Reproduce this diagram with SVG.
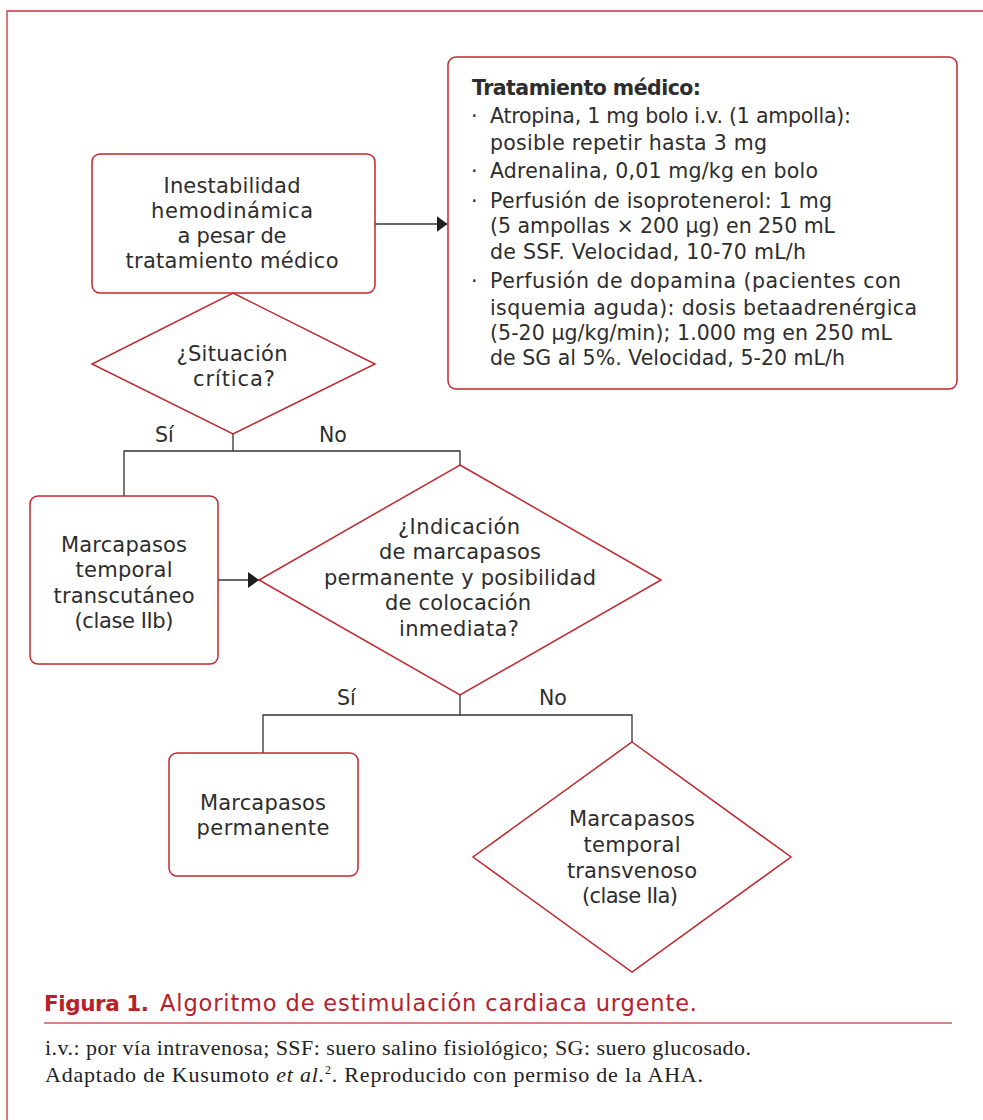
<svg xmlns="http://www.w3.org/2000/svg" width="983" height="1120" viewBox="0 0 983 1120">
<defs>
<marker id="ah" viewBox="0 0 11 16" refX="11" refY="8" markerWidth="11" markerHeight="16" markerUnits="userSpaceOnUse" orient="auto">
<path d="M0,0 L11,8 L0,16 Z" fill="#1e1e1e"/>
</marker>
<style>
.node{fill:#fff;stroke:#c1272d;stroke-width:1.5}
.t{font-family:"DejaVu Sans","Open Sans",sans-serif;font-size:21px;fill:#2d2d2d;text-anchor:middle}
.tl{font-family:"DejaVu Sans","Open Sans",sans-serif;font-size:20.5px;fill:#2d2d2d}
.lbl{font-family:"DejaVu Sans","Open Sans",sans-serif;font-size:20.5px;fill:#2d2d2d}
.conn{fill:none;stroke:#333;stroke-width:1.3}
.frame{stroke:#c4343b;stroke-width:1.3;fill:none}
.fn{font-family:"Liberation Serif","Times New Roman",serif;font-size:22px;fill:#222}
</style>
</defs>
<rect width="983" height="1120" fill="#fff"/>
<path class="frame" d="M983,11 H7 V1120"/>

<g id="connectors">
<path class="conn" d="M375,224 H447.5" marker-end="url(#ah)"/>
<path class="conn" d="M233,434 V451 M124,496 V451 H460 V465"/>
<path class="conn" d="M218,580 H259" marker-end="url(#ah)"/>
<path class="conn" d="M460,694 V715 M263,753 V715 H632 V742"/>
<text class="lbl" x="155" y="442">Sí</text>
<text class="lbl" x="319" y="442">No</text>
<text class="lbl" x="337" y="705">Sí</text>
<text class="lbl" x="539" y="705">No</text>
</g>

<g id="tratamiento">
<rect class="node" x="448" y="57" width="509" height="332" rx="8"/>
<text class="tl" x="472" y="95" font-weight="bold" textLength="229">Tratamiento médico:</text>
<text class="tl" x="471" y="123">·</text>
<text class="tl" x="490" y="123" textLength="361">Atropina, 1 mg bolo i.v. (1 ampolla):</text>
<text class="tl" x="490" y="150" textLength="277">posible repetir hasta 3 mg</text>
<text class="tl" x="471" y="178">·</text>
<text class="tl" x="490" y="178" textLength="328">Adrenalina, 0,01 mg/kg en bolo</text>
<text class="tl" x="471" y="208">·</text>
<text class="tl" x="490" y="208" textLength="342">Perfusión de isoprotenerol: 1 mg</text>
<text class="tl" x="490" y="233" textLength="345">(5 ampollas × 200 µg) en 250 mL</text>
<text class="tl" x="490" y="259" textLength="316">de SSF. Velocidad, 10-70 mL/h</text>
<text class="tl" x="471" y="288">·</text>
<text class="tl" x="490" y="288" textLength="411">Perfusión de dopamina (pacientes con</text>
<text class="tl" x="490" y="315" textLength="427">isquemia aguda): dosis betaadrenérgica</text>
<text class="tl" x="490" y="340" textLength="402">(5-20 µg/kg/min); 1.000 mg en 250 mL</text>
<text class="tl" x="490" y="365" textLength="355">de SG al 5%. Velocidad, 5-20 mL/h</text>
</g>

<g id="inestabilidad">
<rect class="node" x="92" y="154" width="283" height="139" rx="8"/>
<text class="t" x="232" y="193" textLength="137">Inestabilidad</text>
<text class="t" x="232" y="218" textLength="162">hemodinámica</text>
<text class="t" x="232" y="243" textLength="109">a pesar de</text>
<text class="t" x="232" y="268" textLength="213">tratamiento médico</text>
</g>

<g id="situacion">
<polygon class="node" points="233,293 375,364 233,434 92,364"/>
<text class="t" x="232" y="361" textLength="111">¿Situación</text>
<text class="t" x="234" y="386" textLength="82">crítica?</text>
</g>

<g id="transcutaneo">
<rect class="node" x="30" y="496" width="188" height="168" rx="8"/>
<text class="t" x="124" y="552" textLength="126">Marcapasos</text>
<text class="t" x="124" y="577" textLength="97">temporal</text>
<text class="t" x="124" y="603" textLength="141">transcutáneo</text>
<text class="t" x="124" y="628" textLength="99">(clase IIb)</text>
</g>

<g id="indicacion">
<polygon class="node" points="460,465 661,580 460,695 259,580"/>
<text class="t" x="459" y="534" textLength="122">¿Indicación</text>
<text class="t" x="460" y="559" textLength="162">de marcapasos</text>
<text class="t" x="460" y="585" textLength="272">permanente y posibilidad</text>
<text class="t" x="458" y="610" textLength="146">de colocación</text>
<text class="t" x="459" y="636" textLength="120">inmediata?</text>
</g>

<g id="permanente">
<rect class="node" x="169" y="753" width="189" height="123" rx="8"/>
<text class="t" x="263" y="810" textLength="126">Marcapasos</text>
<text class="t" x="263" y="835" textLength="133">permanente</text>
</g>

<g id="transvenoso">
<polygon class="node" points="632,742 791,857 632,972 473,857"/>
<text class="t" x="632" y="826" textLength="126">Marcapasos</text>
<text class="t" x="632" y="852" textLength="97">temporal</text>
<text class="t" x="632" y="878" textLength="130">transvenoso</text>
<text class="t" x="630" y="903" textLength="96">(clase IIa)</text>
</g>

<g id="caption">
<text x="44" y="1011" font-family="'DejaVu Sans','Open Sans',sans-serif" font-size="21.5" font-weight="bold" fill="#b8202a" textLength="105">Figura 1.</text>
<text x="160" y="1011" font-family="'DejaVu Sans','Open Sans',sans-serif" font-size="22.5" fill="#b8202a" textLength="537">Algoritmo de estimulación cardiaca urgente.</text>
<line x1="44" y1="1023" x2="952" y2="1023" stroke="#c8585e" stroke-width="1.6"/>
<text class="fn" x="45" y="1055" textLength="706">i.v.: por vía intravenosa; SSF: suero salino fisiológico; SG: suero glucosado.</text>
<text class="fn" x="45" y="1082" textLength="658">Adaptado de Kusumoto <tspan font-style="italic">et al.</tspan><tspan font-size="12" dy="-8">2</tspan><tspan dy="8">. Reproducido con permiso de la AHA.</tspan></text>
</g>
</svg>
